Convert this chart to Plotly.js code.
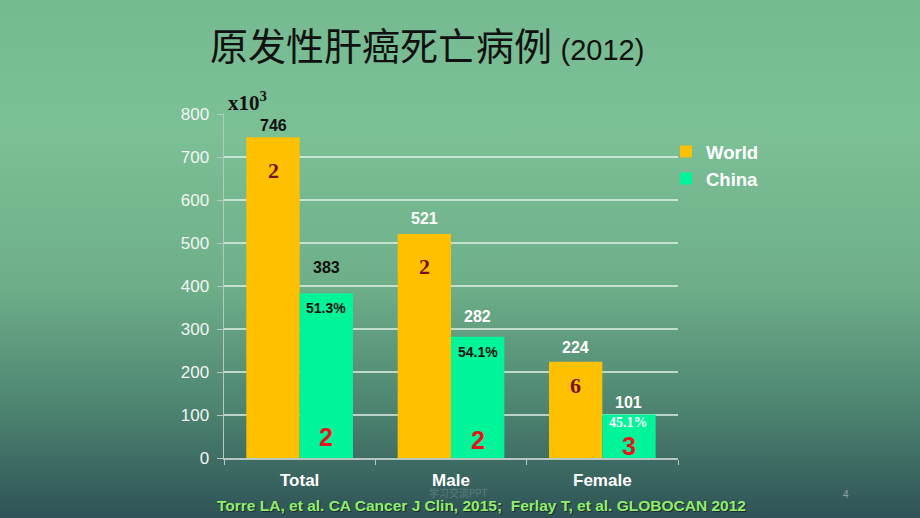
<!DOCTYPE html>
<html>
<head>
<meta charset="utf-8">
<script src="https://cdn.plot.ly/plotly-3.0.1.min.js"></script>
<style>
html,body{margin:0;padding:0;width:920px;height:518px;overflow:hidden;}
body{background:linear-gradient(180deg,#76ba92 0%,#7cc096 25%,#6eaf89 55%,#4e8672 78%,#2f5356 100%);}
#chart{width:920px;height:518px;}
</style>
</head>
<body>
<div id="chart"></div>
<script>
const categories = ['Total', 'Male', 'Female'];
const worldValues = [746, 521, 224];
const chinaValues = [383, 282, 101];
const worldRank = ['2', '2', '6'];
const chinaShare = ['51.3%', '54.1%', '45.1%'];
const chinaRank = ['2', '2', '3'];

// styling (kept apart from the data)
const worldLabelColors = ['#111111', '#ffffff', '#ffffff'];
const chinaLabelColors = ['#111111', '#ffffff', '#ffffff'];
const worldLabelLift = [12, 15, 14];
const chinaLabelLift = [26, 20, 12];
const worldRankDrop = [33, 33, 24];
const shareColors = ['#111111', '#111111', '#ffffff'];
const shareFonts = ['Arial', 'Arial', 'Liberation Serif'];
const shareDrop = [15, 15, 8];
const chinaRankLift = [21, 18, 12];

const off = 0.176;
const annotations = [];
categories.forEach((c, i) => {
  annotations.push({x: i - off, y: worldValues[i], xref: 'x', yref: 'y', text: String(worldValues[i]), showarrow: false,
    yanchor: 'middle', yshift: worldLabelLift[i], font: {family: 'Arial', size: 16, color: worldLabelColors[i], weight: 'bold'}});
  annotations.push({x: i + off, y: chinaValues[i], xref: 'x', yref: 'y', text: String(chinaValues[i]), showarrow: false,
    yanchor: 'middle', yshift: chinaLabelLift[i], font: {family: 'Arial', size: 16, color: chinaLabelColors[i], weight: 'bold'}});
  annotations.push({x: i - off, y: worldValues[i], xref: 'x', yref: 'y', text: worldRank[i], showarrow: false,
    yanchor: 'middle', yshift: -worldRankDrop[i], font: {family: 'Liberation Serif', size: 22, color: '#7a1010', weight: 'bold'}});
  annotations.push({x: i + off, y: chinaValues[i], xref: 'x', yref: 'y', text: chinaShare[i], showarrow: false,
    yanchor: 'middle', yshift: -shareDrop[i], font: {family: shareFonts[i], size: 14, color: shareColors[i], weight: 'bold'}});
  annotations.push({x: i + off, y: 0, xref: 'x', yref: 'y', text: chinaRank[i], showarrow: false,
    yanchor: 'middle', yshift: chinaRankLift[i], font: {family: 'Arial', size: 25, color: '#e8141c', weight: 'bold'}});
});
annotations.push({x: (226 - 224) / 454, y: (458 - 102) / 344, xref: 'paper', yref: 'paper', xanchor: 'left', yanchor: 'middle',
  text: 'x10<sup>3</sup>', showarrow: false,
  font: {family: 'Liberation Serif', size: 21, color: '#111111', weight: 'bold'}});
annotations.push({x: (481 - 224) / 454, y: (458 - 505) / 344, xref: 'paper', yref: 'paper', xanchor: 'center', yanchor: 'middle',
  showarrow: false,
  text: 'Torre LA, et al. CA Cancer J Clin, 2015;  Ferlay T, et al. GLOBOCAN 2012',
  font: {family: 'Arial', size: 15.5, color: '#8ef06a', weight: 'bold', shadow: '1px 1px 1px #223'}});
annotations.push({x: (458 - 224) / 454, y: (458 - 492) / 344, xref: 'paper', yref: 'paper', xanchor: 'center', yanchor: 'middle',
  showarrow: false, text: '学习交流PPT',
  font: {family: 'Noto Sans CJK SC', size: 10, color: 'rgba(255,255,255,0.2)'}});
annotations.push({x: (846 - 224) / 454, y: (458 - 494) / 344, xref: 'paper', yref: 'paper', xanchor: 'center', yanchor: 'middle',
  showarrow: false, text: '4',
  font: {family: 'Arial', size: 10, color: 'rgba(255,255,255,0.45)'}});

const data = [
  {type: 'bar', name: 'World', x: categories, y: worldValues, marker: {color: '#ffc000'}, hoverinfo: 'skip'},
  {type: 'bar', name: 'China', x: categories, y: chinaValues, marker: {color: '#00f59a'}, hoverinfo: 'skip'}
];

const layout = {
  width: 920, height: 518,
  paper_bgcolor: 'rgba(0,0,0,0)', plot_bgcolor: 'rgba(0,0,0,0)',
  margin: {l: 224, r: 242, t: 114, b: 60},
  barmode: 'group', bargap: 0.295, bargroupgap: 0,
  title: {text: '原发性肝癌死亡病例 <span style="font-family:Arial;font-size:29px">(2012)</span>',
    x: 210/920, xanchor: 'left', xref: 'container', y: 1 - 47/518, yanchor: 'middle', yref: 'container',
    font: {family: 'Noto Sans CJK SC', size: 38, color: '#111111'}},
  xaxis: {type: 'category', showgrid: false, showline: true, linecolor: '#b8c8c0', linewidth: 1.5,
    ticks: 'outside', tickson: 'boundaries', ticklen: 5, tickcolor: '#b8c8c0', ticklabelstandoff: 6,
    tickfont: {family: 'Arial', size: 17, color: '#ffffff', weight: 'bold'}},
  yaxis: {range: [0, 800], dtick: 100, showgrid: true, gridcolor: 'rgba(235,245,240,0.7)', gridwidth: 1.2,
    showline: true, linecolor: '#b8c8c0', linewidth: 1.5, zeroline: false,
    ticks: 'outside', ticklen: 6, tickcolor: '#b8c8c0', ticklabelstandoff: 4,
    tickfont: {family: 'Arial', size: 17, color: '#f2f6f4'}},
  legend: {x: (666 - 224) / 454, xanchor: 'left', y: 0.945, yanchor: 'top', bgcolor: 'rgba(0,0,0,0)',
    font: {family: 'Arial', size: 18.5, color: '#ffffff', weight: 'bold'}, tracegroupgap: 1},
  annotations: annotations,
  showlegend: true
};

Plotly.newPlot('chart', data, layout, {displayModeBar: false, staticPlot: true});
</script>
</body>
</html>
